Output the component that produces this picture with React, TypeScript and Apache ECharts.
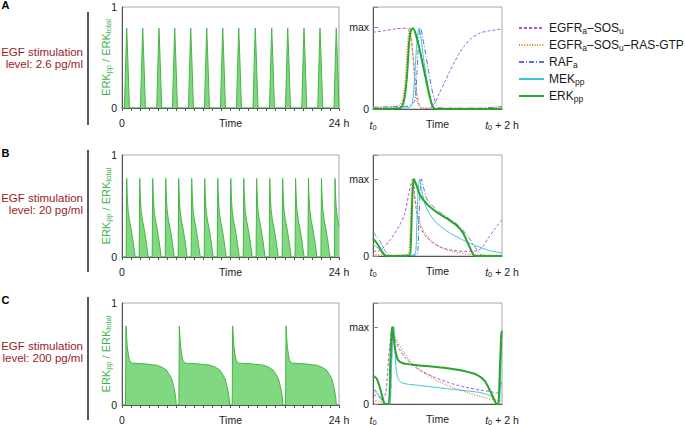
import React, { useEffect, useRef } from "react";
import * as echarts from "echarts";

type P = [number, number];

const FONT = "'Liberation Sans', Arial, Helvetica, sans-serif";
const GREEN_AREA = "#80d880";
const GREEN_EDGE = "#45b545";
const AXIS_GREEN = "#3cb44b";

const panelLetters = ["A", "B", "C"];
const egfLevels = ["level: 2.6 pg/ml", "level: 20 pg/ml", "level: 200 pg/ml"];
const leftXLabels = ["0", "24 h"];
const rightXLabels = ["{i|t}{s|0}", "{i|t}{s|0}{n| + 2 h}"];
const rightYLabels = ["0", "max"];
const seriesNames = ["EGFRa–SOSu", "EGFRa–SOSu–RAS-GTP", "RAFa", "MEKpp", "ERKpp"];
const legendLabels: Record<string, string> = {
  "EGFRa–SOSu": "{n|EGFR}{s|a}{n|–SOS}{s|u}",
  "EGFRa–SOSu–RAS-GTP": "{n|EGFR}{s|a}{n|–SOS}{s|u}{n|–RAS-GTP}",
  RAFa: "{n|RAF}{s|a}",
  MEKpp: "{n|MEK}{s|pp}",
  ERKpp: "{n|ERK}{s|pp}",
};

// ---- left panels: ERKpp / ERKtotal over 24 h ----
const erkA: P[] = [
  [0, 0],
  [0.27, 0], [0.42, 0.5], [0.52, 0.79], [0.64, 0.5], [0.82, 0],
  [2.04, 0], [2.19, 0.5], [2.29, 0.79], [2.41, 0.5], [2.59, 0],
  [3.84, 0], [3.99, 0.5], [4.09, 0.79], [4.21, 0.5], [4.39, 0],
  [5.58, 0], [5.73, 0.5], [5.83, 0.79], [5.95, 0.5], [6.13, 0],
  [7.35, 0], [7.5, 0.5], [7.6, 0.79], [7.72, 0.5], [7.9, 0],
  [9.12, 0], [9.27, 0.5], [9.37, 0.79], [9.49, 0.5], [9.67, 0],
  [10.89, 0], [11.04, 0.5], [11.14, 0.79], [11.26, 0.5], [11.44, 0],
  [12.66, 0], [12.81, 0.5], [12.91, 0.79], [13.03, 0.5], [13.21, 0],
  [14.49, 0], [14.64, 0.5], [14.74, 0.79], [14.86, 0.5], [15.04, 0],
  [16.31, 0], [16.46, 0.5], [16.56, 0.79], [16.68, 0.5], [16.86, 0],
  [18.08, 0], [18.23, 0.5], [18.33, 0.79], [18.45, 0.5], [18.63, 0],
  [19.88, 0], [20.03, 0.5], [20.13, 0.79], [20.25, 0.5], [20.43, 0],
  [21.65, 0], [21.8, 0.5], [21.9, 0.79], [22.02, 0.5], [22.2, 0],
  [23.45, 0], [23.6, 0.5], [23.7, 0.79], [23.82, 0.5], [24, 0],
];

const erkB: P[] = [
  [0, 0],
  [0.46, 0], [0.52, 0.77], [0.58, 0.6], [0.67, 0.46], [0.82, 0.36], [1.02, 0.27], [1.2, 0.17], [1.37, 0.06], [1.46, 0],
  [1.9, 0], [1.96, 0.77], [2.02, 0.6], [2.11, 0.46], [2.26, 0.36], [2.46, 0.27], [2.64, 0.17], [2.81, 0.06], [2.9, 0],
  [3.34, 0], [3.4, 0.77], [3.46, 0.6], [3.55, 0.46], [3.7, 0.36], [3.9, 0.27], [4.08, 0.17], [4.25, 0.06], [4.34, 0],
  [4.78, 0], [4.84, 0.77], [4.9, 0.6], [4.99, 0.46], [5.14, 0.36], [5.34, 0.27], [5.52, 0.17], [5.69, 0.06], [5.78, 0],
  [6.21, 0], [6.27, 0.77], [6.33, 0.6], [6.42, 0.46], [6.57, 0.36], [6.77, 0.27], [6.95, 0.17], [7.12, 0.06], [7.21, 0],
  [7.65, 0], [7.71, 0.77], [7.77, 0.6], [7.86, 0.46], [8.01, 0.36], [8.21, 0.27], [8.39, 0.17], [8.56, 0.06], [8.65, 0],
  [9.09, 0], [9.15, 0.77], [9.21, 0.6], [9.3, 0.46], [9.45, 0.36], [9.65, 0.27], [9.83, 0.17], [10.0, 0.06], [10.09, 0],
  [10.53, 0], [10.59, 0.77], [10.65, 0.6], [10.74, 0.46], [10.89, 0.36], [11.09, 0.27], [11.27, 0.17], [11.44, 0.06], [11.53, 0],
  [11.97, 0], [12.03, 0.77], [12.09, 0.6], [12.18, 0.46], [12.33, 0.36], [12.53, 0.27], [12.71, 0.17], [12.88, 0.06], [12.97, 0],
  [13.41, 0], [13.47, 0.77], [13.53, 0.6], [13.62, 0.46], [13.77, 0.36], [13.97, 0.27], [14.15, 0.17], [14.32, 0.06], [14.41, 0],
  [14.83, 0], [14.89, 0.77], [14.95, 0.6], [15.04, 0.46], [15.19, 0.36], [15.39, 0.27], [15.57, 0.17], [15.74, 0.06], [15.83, 0],
  [16.28, 0], [16.34, 0.77], [16.4, 0.6], [16.49, 0.46], [16.64, 0.36], [16.84, 0.27], [17.02, 0.17], [17.19, 0.06], [17.28, 0],
  [17.71, 0], [17.77, 0.77], [17.83, 0.6], [17.92, 0.46], [18.07, 0.36], [18.27, 0.27], [18.45, 0.17], [18.62, 0.06], [18.71, 0],
  [19.14, 0], [19.2, 0.77], [19.26, 0.6], [19.35, 0.46], [19.5, 0.36], [19.7, 0.27], [19.88, 0.17], [20.05, 0.06], [20.14, 0],
  [20.56, 0], [20.62, 0.77], [20.68, 0.6], [20.77, 0.46], [20.92, 0.36], [21.12, 0.27], [21.3, 0.17], [21.47, 0.06], [21.56, 0],
  [22.0, 0], [22.06, 0.77], [22.12, 0.6], [22.21, 0.46], [22.36, 0.36], [22.56, 0.27], [22.74, 0.17], [22.91, 0.06], [23.0, 0],
  [23.5, 0], [23.56, 0.77], [23.62, 0.6], [23.71, 0.46], [23.86, 0.36], [24, 0.3],
];

const erkC: P[] = [
  [0, 0],
  [0.39, 0], [0.44, 0.775], [0.58, 0.57], [0.8, 0.44], [1.07, 0.41], [2.34, 0.405], [3.84, 0.39], [4.44, 0.37], [4.94, 0.34], [5.49, 0.26], [5.75, 0.17], [5.94, 0.075], [6.0, 0],
  [6.29, 0], [6.34, 0.775], [6.48, 0.57], [6.7, 0.44], [6.97, 0.41], [8.24, 0.405], [9.74, 0.39], [10.34, 0.37], [10.84, 0.34], [11.39, 0.26], [11.65, 0.17], [11.84, 0.075], [11.9, 0],
  [12.19, 0], [12.24, 0.775], [12.38, 0.57], [12.6, 0.44], [12.87, 0.41], [14.14, 0.405], [15.64, 0.39], [16.24, 0.37], [16.74, 0.34], [17.29, 0.26], [17.55, 0.17], [17.74, 0.075], [17.8, 0],
  [18.09, 0], [18.14, 0.775], [18.28, 0.57], [18.5, 0.44], [18.77, 0.41], [20.04, 0.405], [21.54, 0.39], [22.14, 0.37], [22.64, 0.34], [23.19, 0.26], [23.45, 0.17], [23.64, 0.075], [23.7, 0],
  [24, 0],
];

// ---- right panels: species over t0 .. t0 + 2 h (minutes), relative to max ----
const purpleA: P[] = [[0, 0.94], [10.9, 0.96], [20.2, 0.98], [27.6, 0.99], [31.3, 0.99], [34.1, 0.95], [36.9, 0.7], [39.7, 0.3], [42.5, 0.07], [46.2, 0], [52.7, 0.01], [57.4, 0.07], [62, 0.2], [66.7, 0.33], [71.3, 0.46], [76, 0.58], [80.7, 0.69], [85.3, 0.78], [90, 0.85], [99.3, 0.93], [108.6, 0.96], [120, 0.98]];
const orangeA: P[] = [[0, 0.02], [20, 0.03], [24.8, 0.05], [27.6, 0.12], [29.5, 0.3], [31.3, 0.65], [33.2, 0.95], [34.6, 1.0], [36, 0.85], [37.9, 0.5], [39.7, 0.2], [41.6, 0.07], [44.4, 0.02], [60, 0.01], [100, 0.01], [120, 0.03]];
const blueA: P[] = [[0, 0.02], [24.8, 0.03], [34.1, 0.04], [38.8, 0.1], [40.7, 0.4], [42.5, 0.85], [44.1, 1.0], [46.2, 0.88], [51.2, 0.5], [54.6, 0.25], [57.4, 0.11], [60.5, 0.02], [70, 0.01], [100, 0.01], [120, 0.03]];
const cyanA: P[] = [[0, 0], [34.1, 0.02], [36.9, 0.1], [38.8, 0.4], [40.7, 0.8], [42.8, 0.99], [44.4, 0.9], [47.2, 0.6], [50.9, 0.3], [54.6, 0.08], [57.4, 0.01], [60, 0], [120, 0]];
const greenA: P[] = [[0, 0], [24.8, 0.01], [27.6, 0.05], [29.5, 0.15], [31.6, 0.4], [33.5, 0.8], [35, 0.95], [37.2, 0.99], [39.7, 0.92], [43.4, 0.73], [48, 0.44], [52.7, 0.15], [55.8, 0.02], [58.3, 0], [120, 0]];

const purpleB: P[] = [[0, 0.06], [6.2, 0.07], [15.5, 0.2], [24.8, 0.4], [29.5, 0.55], [33.2, 0.8], [36, 0.97], [37.2, 1.0], [38.8, 0.8], [40.7, 0.55], [43.4, 0.4], [48, 0.27], [54.6, 0.18], [62, 0.12], [71.3, 0.08], [85.3, 0.06], [97.3, 0.07], [102, 0.12], [106.7, 0.22], [113.2, 0.35], [120, 0.47]];
const orangeB: P[] = [[0, 0.02], [15.5, 0.01], [32.3, 0.02], [34.1, 0.2], [35.5, 0.7], [36.7, 1.0], [37.9, 0.85], [40.4, 0.62], [45, 0.38], [52.7, 0.22], [62, 0.12], [74.1, 0.06], [90, 0.02], [120, 0.01]];
const blueB: P[] = [[0, 0.31], [6.2, 0.2], [10.9, 0.07], [15.5, 0.01], [20, 0], [40.7, 0.02], [42.5, 0.4], [43.9, 0.85], [45, 1.0], [47.2, 0.88], [50, 0.74], [59, 0.6], [71.3, 0.48], [80.7, 0.38], [90, 0.22], [96.2, 0.09], [100.2, 0.02], [103, 0], [120, 0]];
const cyanB: P[] = [[0, 0.15], [6.2, 0.09], [10.9, 0.03], [13.7, 0], [38.8, 0.02], [40.7, 0.4], [42, 0.85], [43.4, 1.0], [45.3, 0.85], [49.7, 0.62], [59, 0.43], [71.3, 0.3], [83.4, 0.21], [96.2, 0.13], [108.6, 0.07], [120, 0.04]];
const greenB: P[] = [[0, 0.23], [4.4, 0.15], [8.1, 0.06], [10.9, 0.01], [13.7, 0], [34.1, 0.01], [35.5, 0.3], [36.9, 0.85], [38.1, 1.0], [40.4, 0.92], [43.4, 0.8], [49.7, 0.68], [59, 0.57], [68.3, 0.49], [77.6, 0.4], [83.7, 0.3], [88.1, 0.17], [91.8, 0.06], [94.6, 0], [120, 0]];

const purpleC: P[] = [[0, 0.12], [5, 0.1], [9, 0.06], [12, 0.15], [13.7, 0.45], [15.5, 0.75], [17, 0.92], [18.5, 0.95], [21, 0.82], [25, 0.7], [30, 0.6], [40, 0.47], [55, 0.36], [70, 0.28], [85, 0.22], [100, 0.18], [110, 0.16], [115, 0.14], [118, 0.2], [120, 0.3]];
const orangeC: P[] = [[0, 0.05], [6, 0.03], [10, 0.01], [14, 0], [15.5, 0.05], [17, 0.5], [18.5, 0.85], [20, 0.88], [23, 0.8], [28, 0.68], [37, 0.52], [46, 0.42], [60, 0.3], [75, 0.21], [90, 0.14], [105, 0.08], [115, 0.05], [120, 0.04]];
const blueC: P[] = [[0, 0.2], [3.4, 0.16], [6.2, 0.1], [9, 0.03], [11.5, 0], [15.5, 0], [17, 0.5], [18.3, 0.97], [19, 1.0], [20, 0.85], [21.5, 0.65], [24, 0.55], [28, 0.52], [43.4, 0.5], [59, 0.48], [71.3, 0.46], [83.7, 0.43], [96.2, 0.38], [103.9, 0.3], [108.6, 0.19], [112.3, 0.08], [115.5, 0], [117, 0], [118.5, 0.5], [120, 0.9]];
const cyanC: P[] = [[0, 0.19], [6.2, 0.1], [10.9, 0.02], [12.5, 0], [15.5, 0], [17, 0.4], [18.5, 0.95], [19.3, 1.0], [20.5, 0.7], [21.5, 0.45], [23.3, 0.33], [26, 0.28], [31, 0.26], [43.4, 0.24], [74, 0.19], [99, 0.15], [108.6, 0.11], [113, 0.05], [116, 0], [117.5, 0], [119, 0.5], [120, 0.8]];
const greenC: P[] = [[0, 0.37], [3.4, 0.33], [6.2, 0.22], [9, 0.08], [10.9, 0], [14.6, 0], [16, 0.5], [17.4, 0.95], [18, 1.0], [19.3, 0.85], [20.7, 0.7], [23.3, 0.57], [27.9, 0.53], [43.4, 0.5], [59, 0.48], [71.3, 0.46], [83.7, 0.43], [96.2, 0.38], [103.9, 0.3], [108.6, 0.18], [112.3, 0.07], [115.1, 0], [116.5, 0], [117.9, 0.4], [119.3, 0.9], [120, 0.95]];

const leftData = [erkA, erkB, erkC];
const rightData = [
  [purpleA, orangeA, blueA, cyanA, greenA],
  [purpleB, orangeB, blueB, cyanB, greenB],
  [purpleC, orangeC, blueC, cyanC, greenC],
];

// layout
const leftGrids = [
  { top: 7, height: 101 },
  { top: 155, height: 102 },
  { top: 303, height: 102 },
];
const rightGrids = [
  { top: 7, height: 102 },
  { top: 155, height: 101 },
  { top: 303, height: 101 },
];
const rightMax = [1.25, 1.31, 1.31];
const letterY = [5, 153, 300];
const redY = [
  [51.7, 63.5],
  [198, 210],
  [345.5, 357.5],
];
const dividerY = [
  [12, 125],
  [150, 272],
  [297, 420],
];

const speciesStyles = [
  { color: "#a45bdc", width: 1, type: [3, 2] as any },
  { color: "#e5871f", width: 1.3, type: [1, 1.6] as any },
  { color: "#5a70d4", width: 1, type: [5, 2, 1, 2] as any },
  { color: "#3ec6d6", width: 1, type: "solid" as any },
  { color: "#2aa52a", width: 2, type: "solid" as any },
];

const labelColor = "#1a1a1a";
const subRich = {
  n: { fontSize: 10.5, color: labelColor, fontFamily: FONT, lineHeight: 13 },
  i: { fontSize: 10.5, color: labelColor, fontFamily: FONT, fontStyle: "italic", lineHeight: 13 },
  s: { fontSize: 7.5, color: labelColor, fontFamily: FONT, lineHeight: 6, verticalAlign: "bottom" },
};

function buildOption() {
  const grid: any[] = [];
  const xAxis: any[] = [];
  const yAxis: any[] = [];
  const series: any[] = [];

  leftGrids.forEach((g, i) => {
    grid.push({ left: 122, top: g.top, width: 217, height: g.height, show: true, borderColor: "#a8a8a8", borderWidth: 1, backgroundColor: "transparent", containLabel: false, outerBoundsMode: "none" });
    xAxis.push({
      type: "value", gridIndex: i, min: 0, max: 24, interval: 24,
      axisLine: { show: true, lineStyle: { color: "#555", width: 1 } },
      axisTick: { show: true, length: 3, lineStyle: { color: "#555" } },
      minorTick: { show: true, splitNumber: 24, length: 3, lineStyle: { color: "#555" } },
      splitLine: { show: false }, minorSplitLine: { show: false },
      axisLabel: { fontSize: 10.5, color: labelColor, fontFamily: FONT, margin: 9, formatter: (v: number) => (v === 0 ? leftXLabels[0] : v === 24 ? leftXLabels[1] : "") },
      name: "Time", nameLocation: "middle", nameGap: 9, nameMoveOverlap: false,
      nameTextStyle: { fontSize: 10.5, color: labelColor, fontFamily: FONT, verticalAlign: "top" },
    });
    yAxis.push({
      type: "value", gridIndex: i, min: 0, max: 1, interval: 1,
      axisLine: { show: true, lineStyle: { color: "#555", width: 1 } },
      axisTick: { show: false }, splitLine: { show: false },
      axisLabel: { fontSize: 10.5, color: labelColor, fontFamily: FONT, margin: 5 },
      name: "{n|ERK}{s|pp}{n| / ERK}{s|total}", nameLocation: "middle", nameRotate: 90, nameGap: 10, nameMoveOverlap: false,
      nameTextStyle: {
        rich: {
          n: { fontSize: 11, color: AXIS_GREEN, fontFamily: FONT, lineHeight: 13 },
          s: { fontSize: 7.5, color: AXIS_GREEN, fontFamily: FONT, lineHeight: 6, verticalAlign: "bottom" },
        },
      },
    });
    series.push({
      type: "line", xAxisIndex: i, yAxisIndex: i, data: leftData[i], showSymbol: false, symbol: "none",
      lineStyle: { color: GREEN_EDGE, width: 1 }, areaStyle: { color: GREEN_AREA, opacity: 1 }, silent: true, z: 2,
    });
  });

  rightGrids.forEach((g, k) => {
    const gi = 3 + k;
    grid.push({ left: 373, top: g.top, width: 129, height: g.height, show: true, borderColor: "#a8a8a8", borderWidth: 1, backgroundColor: "transparent", containLabel: false, outerBoundsMode: "none" });
    xAxis.push({
      type: "value", gridIndex: gi, min: 0, max: 120, interval: 120,
      axisLine: { show: true, lineStyle: { color: "#555", width: 1 } },
      axisTick: { show: false }, splitLine: { show: false },
      axisLabel: { margin: 9, rich: subRich, formatter: (v: number) => (v === 0 ? rightXLabels[0] : v === 120 ? rightXLabels[1] : "") },
      name: "Time", nameLocation: "middle", nameGap: 9, nameMoveOverlap: false,
      nameTextStyle: { fontSize: 10.5, color: labelColor, fontFamily: FONT, verticalAlign: "top" },
    });
    yAxis.push({
      type: "value", gridIndex: gi, min: 0, max: rightMax[k], interval: 1,
      axisLine: { show: true, lineStyle: { color: "#555", width: 1 } },
      axisTick: { show: true, inside: true, length: 5, lineStyle: { color: "#888" } },
      splitLine: { show: false },
      axisLabel: { fontSize: 10.5, color: labelColor, fontFamily: FONT, margin: 4, formatter: (v: number) => (v === 0 ? rightYLabels[0] : v === 1 ? rightYLabels[1] : "") },
    });
    rightData[k].forEach((d, s) => {
      const st = speciesStyles[s];
      series.push({
        type: "line", name: seriesNames[s], xAxisIndex: gi, yAxisIndex: gi, data: d,
        showSymbol: false, symbol: "none", smooth: 0.25, silent: true,
        lineStyle: { color: st.color, width: st.width, type: st.type },
        itemStyle: { color: st.color },
        z: 3 + s,
      });
    });
  });

  const graphic: any[] = [];
  panelLetters.forEach((L, i) => {
    graphic.push({
      type: "text", left: 1.5, top: letterY[i] - 6,
      style: { text: L, fontSize: 11, fontWeight: "bold", fontFamily: FONT, fill: "#000" },
    });
    graphic.push({
      type: "text", x: 83, y: redY[i][0],
      style: { text: "EGF stimulation", fontSize: 11.5, fontFamily: FONT, fill: "#9a1c1f", align: "right", textAlign: "right", verticalAlign: "middle", textVerticalAlign: "middle" },
    });
    graphic.push({
      type: "text", x: 83, y: redY[i][1],
      style: { text: egfLevels[i], fontSize: 11.5, fontFamily: FONT, fill: "#9a1c1f", align: "right", textAlign: "right", verticalAlign: "middle", textVerticalAlign: "middle" },
    });
    graphic.push({
      type: "line", shape: { x1: 88, y1: dividerY[i][0], x2: 88, y2: dividerY[i][1] },
      style: { stroke: "#222", lineWidth: 1.5 },
    });
  });

  return {
    animation: false,
    backgroundColor: "#fff",
    textStyle: { fontFamily: FONT },
    grid, xAxis, yAxis, series, graphic,
    legend: {
      data: seriesNames, orient: "vertical", left: 513, top: 17,
      itemWidth: 25, itemHeight: 14, itemGap: 4, selectedMode: false,
      itemStyle: { opacity: 0 },
      formatter: (name: string) => legendLabels[name],
      textStyle: {
        rich: {
          n: { fontSize: 12, color: labelColor, fontFamily: FONT, lineHeight: 14 },
          s: { fontSize: 8.5, color: labelColor, fontFamily: FONT, lineHeight: 7, verticalAlign: "bottom" },
        },
      },
    },
  };
}

export default function App() {
  const ref = useRef<HTMLDivElement>(null);
  useEffect(() => {
    if (!ref.current) return;
    const chart = echarts.init(ref.current, null, { renderer: "svg" });
    chart.setOption(buildOption() as any);
    return () => chart.dispose();
  }, []);
  return <div ref={ref} style={{ position: "fixed", left: 0, top: 0, width: 685, height: 425, background: "#fff" }} />;
}
